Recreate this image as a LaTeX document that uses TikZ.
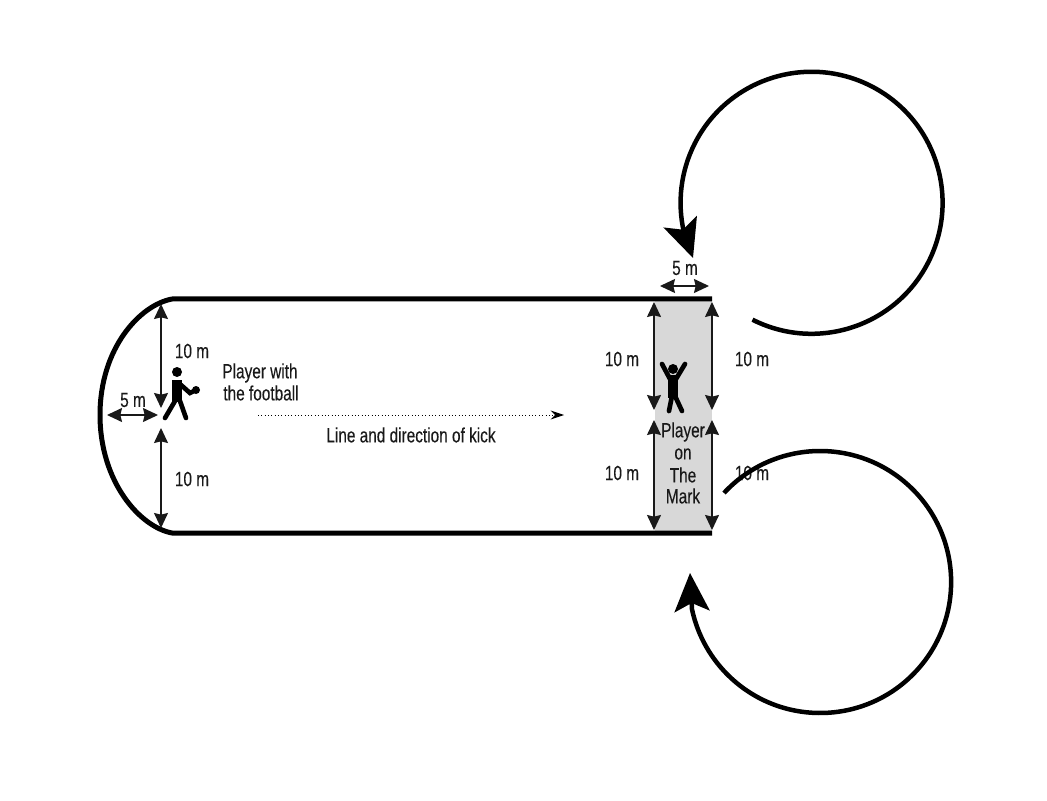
\documentclass[tikz,border=0pt]{standalone}
\usepackage{fontspec}
\setmainfont[FakeStretch=0.75,FakeBold=0.25]{Liberation Sans}
\usetikzlibrary{arrows.meta}
\definecolor{markgrey}{RGB}{216,216,216}
\definecolor{inkgrey}{RGB}{25,25,25}
\tikzset{
    dim/.style={{Stealth[length=.45cm,width=.42cm,inset=.05cm]}-{Stealth[length=.45cm,width=.42cm,inset=.05cm]},line width=.04cm,inkgrey},
    lab/.style={inner sep=0pt,text=inkgrey,font=\fontsize{17.5}{20}\selectfont},
    track/.style={line width=.15cm},
    loopline/.style={line width=.135cm,-{Stealth[length=1.15cm,width=1.05cm,inset=.25cm]}},
    limb/.style={line width=.14cm,line cap=round},
    trunk/.style={line width=.28cm}
}
\begin{document}
\begin{tikzpicture}[x=.03cm,y=.03cm]
    \useasboundingbox (0,0) rectangle (1047,800);

    \coordinate (tl) at (172,501);
    \coordinate (bl) at (172,267);
    \coordinate (tr) at (712,501);
    \coordinate (br) at (712,267);
    \coordinate (nose) at (100,385);

    % the mark
    \fill[markgrey] (655,501) rectangle (br);

    % boundary of the protected area
    \draw[track,line join=round] (tr) -- (tl) .. controls (140,495) and (100,452) .. (nose)
        .. controls (100,318) and (140,273) .. (bl) -- (br);

    % left end
    \coordinate (ltop) at (161,496);
    \coordinate (lmidu) at (161,392);
    \coordinate (lmidd) at (161,372);
    \coordinate (lbot) at (161,272);
    \coordinate (wall) at (107,385);
    \coordinate (mid) at (158,385);
    \draw[dim] (ltop) -- (lmidu);
    \draw[dim] (lmidd) -- (lbot);
    \draw[dim] (wall) -- (mid);

    % the mark
    \foreach \x/\n in {654/a,712/b}{
        \coordinate (up\n) at (\x,498);
        \coordinate (mu\n) at (\x,390);
        \coordinate (md\n) at (\x,380);
        \coordinate (dn\n) at (\x,270);
        \draw[dim] (up\n) -- (mu\n);
        \draw[dim] (md\n) -- (dn\n);
    }
    \coordinate (wl) at (660,514);
    \coordinate (wr) at (709,514);
    \draw[dim] (wl) -- (wr);

    % line of the kick
    \coordinate (kickfrom) at (258,385);
    \coordinate (kickto) at (564,385);
    \draw[dotted,line width=.03cm,-{Stealth[length=.4cm,width=.27cm]}] (kickfrom) -- (kickto);

    % labels
    \node[lab] (lu) at (192,449) {10 m};
    \node[lab] (ld) at (192,321) {10 m};
    \node[lab] (lw) at (133,400) {5 m};
    \node[lab] (wm) at (685,532) {5 m};
    \node[lab] (au) at (622,441) {10 m};
    \node[lab] (ad) at (622,327) {10 m};
    \node[lab] (bu) at (752,441) {10 m};
    \node[lab] (bd) at (752,327) {10 m};
    \node[lab] (pw1) at (260,427) {Player with};
    \node[lab] (pw2) at (261,407) {the football};
    \node[lab] (kick) at (411,365) {Line and direction of kick};
    \node[lab] (pm1) at (683,368) {Player};
    \node[lab] (pm2) at (683,346) {on};
    \node[lab] (pm3) at (683,325) {The};
    \node[lab] (pm4) at (683,304) {Mark};

    % player with the football
    \fill (177,428) circle (5);
    \draw[trunk,line width=.3cm] (177,420) -- (177,398);
    \draw[limb] (175,399) -- (165,382);
    \draw[limb] (180,399) -- (186,382);
    \draw[limb] (181,415) -- (190,407) -- (196,410);
    \fill (196,410) circle (4);

    % player on the mark
    \fill (673,431) circle (5);
    \draw[trunk] (673,425) -- (673,402);
    \draw[limb] (672,404) -- (669,389);
    \draw[limb] (675,404) -- (682,389);
    \draw[limb] (670,421) -- (662,436);
    \draw[limb] (676,421) -- (685,436);

    % the two loops
    \coordinate (topstart) at (752.5,480.3);
    \coordinate (toptip) at (693,542);
    \draw[loopline] (topstart) arc (243.2:553:131) -- (toptip);
    \coordinate (botstart) at (724,307);
    \coordinate (bottip) at (690,227);
    \draw[loopline] (botstart) arc (137.2:-168:131) -- (bottip);
\end{tikzpicture}
\end{document}
